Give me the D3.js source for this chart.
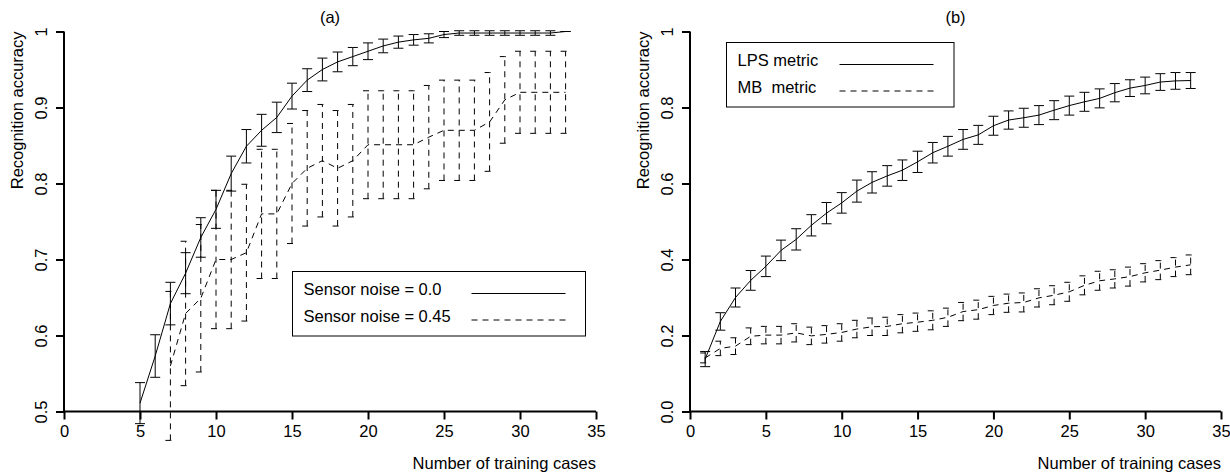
<!DOCTYPE html>
<html>
<head>
<meta charset="utf-8">
<title>Recognition accuracy vs number of training cases</title>
<script src="https://cdn.jsdelivr.net/npm/d3@7"></script>
<style>
  body { margin: 0; background: #fff; }
  text { font-family: "Liberation Sans", Arial, Helvetica, sans-serif; font-size: 16.5px; fill: #000; white-space: pre; }
</style>
</head>
<body>
<svg id="chart" width="1230" height="472"></svg>
<script>
// ---- panel (a): sensor noise ----
const casesA0 = [5,6,7,8,9,10,11,12,13,14,15,16,17,18,19,20,21,22,23,24,25,26,27,28,29,30,31,32,33];
const accA0 = [0.511,0.573,0.642,0.682,0.729,0.766,0.813,0.849,0.870,0.887,0.915,0.936,0.950,0.960,0.967,
               0.974,0.981,0.986,0.989,0.991,0.996,0.998,0.998,0.998,0.998,0.998,0.998,0.998,1.0];
const errA0 = [0.027,0.028,0.028,0.027,0.026,0.025,0.023,0.022,0.021,0.020,0.017,0.015,0.015,0.013,0.012,
               0.011,0.009,0.008,0.007,0.006,0.004,0.003,0.003,0.003,0.003,0.003,0.003,0.003,0.0];

const casesA45 = [7,8,9,10,11,12,13,14,15,16,17,18,19,20,21,22,23,24,25,26,27,28,29,30,31,32,33];
const accA45 = [0.56,0.629,0.649,0.70,0.70,0.709,0.76,0.76,0.80,0.82,0.83,0.82,0.83,0.851,0.851,0.851,0.851,
                0.861,0.870,0.870,0.870,0.881,0.910,0.920,0.920,0.920,0.920];
const errA45 = [0.098,0.095,0.097,0.091,0.091,0.090,0.085,0.085,0.079,0.076,0.074,0.076,0.074,0.071,0.071,0.071,0.071,
                0.068,0.066,0.066,0.066,0.065,0.057,0.054,0.054,0.054,0.054];

// ---- panel (b): metrics ----
const casesB = [1,2,3,4,5,6,7,8,9,10,11,12,13,14,15,16,17,18,19,20,21,22,23,24,25,26,27,28,29,30,31,32,33];
const accLPS = [0.138,0.237,0.30,0.345,0.382,0.424,0.453,0.49,0.522,0.549,0.58,0.603,0.62,0.635,0.657,0.681,0.698,
                0.716,0.728,0.752,0.767,0.773,0.78,0.793,0.805,0.815,0.824,0.839,0.851,0.858,0.867,0.87,0.871];
const errLPS = [0.02,0.023,0.025,0.026,0.027,0.027,0.028,0.028,0.028,0.027,0.029,0.028,0.027,0.027,0.028,0.027,0.026,
                0.026,0.025,0.025,0.024,0.025,0.025,0.025,0.025,0.025,0.025,0.024,0.022,0.022,0.022,0.022,0.021];
const accMB = [0.141,0.166,0.172,0.198,0.201,0.201,0.207,0.199,0.203,0.208,0.217,0.223,0.224,0.231,0.235,0.24,0.248,
               0.263,0.268,0.279,0.285,0.287,0.299,0.306,0.315,0.332,0.344,0.349,0.355,0.365,0.372,0.38,0.386];
const errMB = [0.013,0.019,0.022,0.022,0.023,0.023,0.024,0.023,0.023,0.023,0.023,0.023,0.024,0.024,0.024,0.025,0.024,
               0.024,0.025,0.024,0.024,0.025,0.024,0.025,0.025,0.025,0.025,0.024,0.025,0.024,0.025,0.025,0.026];

const xTicks = [0,5,10,15,20,25,30,35];
const yTicksA = [0.5,0.6,0.7,0.8,0.9,1];
const yTickLabelsA = ["0.5","0.6","0.7","0.8","0.9","1"];
const yTicksB = [0,0.2,0.4,0.6,0.8,1];
const yTickLabelsB = ["0.0","0.2","0.4","0.6","0.8","1"];

const legendA = ["Sensor noise = 0.0", "Sensor noise = 0.45"];
const legendB = ["LPS metric", "MB  metric"];

const DASH = "6,5";
const svg = d3.select("#chart");

function panel(opt) {
  const x = d3.scaleLinear().domain([0, 35]).range([opt.left, opt.right]);
  const y = d3.scaleLinear().domain(opt.yDomain).range([411.5, 31.5]);
  const g = svg.append("g");

  // axes, R style: ticks outside, rotated y labels
  const xAxis = g.append("g").attr("transform", "translate(0,411.5)")
    .call(d3.axisBottom(x).tickValues(xTicks).tickSize(8).tickPadding(6).tickFormat(d3.format("d")));
  const yAxis = g.append("g").attr("transform", `translate(${opt.left},0)`)
    .call(d3.axisLeft(y).tickValues(opt.yTicks).tickSize(8).tickFormat((d, i) => opt.yLabels[i]));
  [xAxis, yAxis].forEach(a => {
    a.select(".domain").attr("stroke-width", 2).attr("d", null);
    a.selectAll(".tick line").attr("stroke-width", 2);
    a.selectAll("text").attr("font-size", null).attr("font-family", null);
  });
  xAxis.select(".domain").attr("d", `M${x(0)},0H${x(35)}`);
  yAxis.select(".domain").attr("d", `M0,${y(opt.yDomain[0])}V${y(opt.yDomain[1])}`);
  yAxis.selectAll(".tick text")
    .attr("transform", "rotate(-90)")
    .attr("x", 0).attr("y", -17).attr("dy", null)
    .attr("text-anchor", "middle");

  g.append("text").attr("x", (opt.left + opt.right) / 2).attr("y", 23)
    .attr("text-anchor", "middle").text(opt.title);
  g.append("text").attr("x", opt.right).attr("y", 469)
    .attr("text-anchor", "end").text("Number of training cases");
  g.append("text").attr("transform", `translate(${opt.left - 41},31.5) rotate(-90)`)
    .attr("text-anchor", "end").text("Recognition accuracy");

  // series: line + error bars
  opt.series.forEach(s => {
    const pts = s.cases.map((c, i) => ({ c, m: s.acc[i], e: s.err[i] }));
    g.append("path").datum(pts)
      .attr("fill", "none").attr("stroke", "#000").attr("stroke-width", 1)
      .attr("stroke-dasharray", s.dash)
      .attr("d", d3.line().x(d => x(d.c)).y(d => y(d.m)));

    const bars = g.append("g").attr("fill", "none").attr("stroke", "#000").attr("stroke-width", 1)
      .attr("stroke-dasharray", s.dash);
    bars.selectAll(".bar").data(pts).join("path").attr("class", "bar")
      .attr("d", d => `M${x(d.c)},${y(d.m - d.e)}V${y(d.m + d.e)}`);
    bars.selectAll(".cap-hi").data(pts).join("path").attr("class", "cap-hi")
      .attr("d", d => `M${x(d.c) - 5},${y(d.m + d.e)}H${x(d.c)}H${x(d.c) + 5}`);
    bars.selectAll(".cap-lo").data(pts).join("path").attr("class", "cap-lo")
      .attr("d", d => `M${x(d.c) - 5},${y(d.m - d.e)}H${x(d.c)}H${x(d.c) + 5}`);
  });

  // legend box
  const L = opt.legend;
  const lg = g.append("g");
  lg.append("rect").attr("x", L.x).attr("y", L.y).attr("width", L.w).attr("height", L.h)
    .attr("fill", "#fff").attr("stroke", "#000").attr("stroke-width", 1);
  opt.series.forEach((s, i) => {
    const ry = L.y + 22 + i * 26.5;
    lg.append("text").attr("x", L.x + 11).attr("y", ry + 1.5).text(L.labels[i]);
    lg.append("line").attr("x1", L.x + L.lineX).attr("x2", L.x + L.lineX + 94)
      .attr("y1", ry).attr("y2", ry)
      .attr("stroke", "#000").attr("stroke-width", 1).attr("stroke-dasharray", s.dash);
  });
}

panel({
  left: 64, right: 596, yDomain: [0.5, 1], yTicks: yTicksA, yLabels: yTickLabelsA, title: "(a)",
  series: [
    { cases: casesA0, acc: accA0, err: errA0, dash: null },
    { cases: casesA45, acc: accA45, err: errA45, dash: DASH }
  ],
  legend: { x: 292.5, y: 271.5, w: 293, h: 64.5, lineX: 179, labels: legendA }
});

panel({
  left: 690, right: 1221, yDomain: [0, 1], yTicks: yTicksB, yLabels: yTickLabelsB, title: "(b)",
  series: [
    { cases: casesB, acc: accLPS, err: errLPS, dash: null },
    { cases: casesB, acc: accMB, err: errMB, dash: DASH }
  ],
  legend: { x: 726.5, y: 42.5, w: 227.5, h: 64.5, lineX: 113, labels: legendB }
});
</script>
</body>
</html>
